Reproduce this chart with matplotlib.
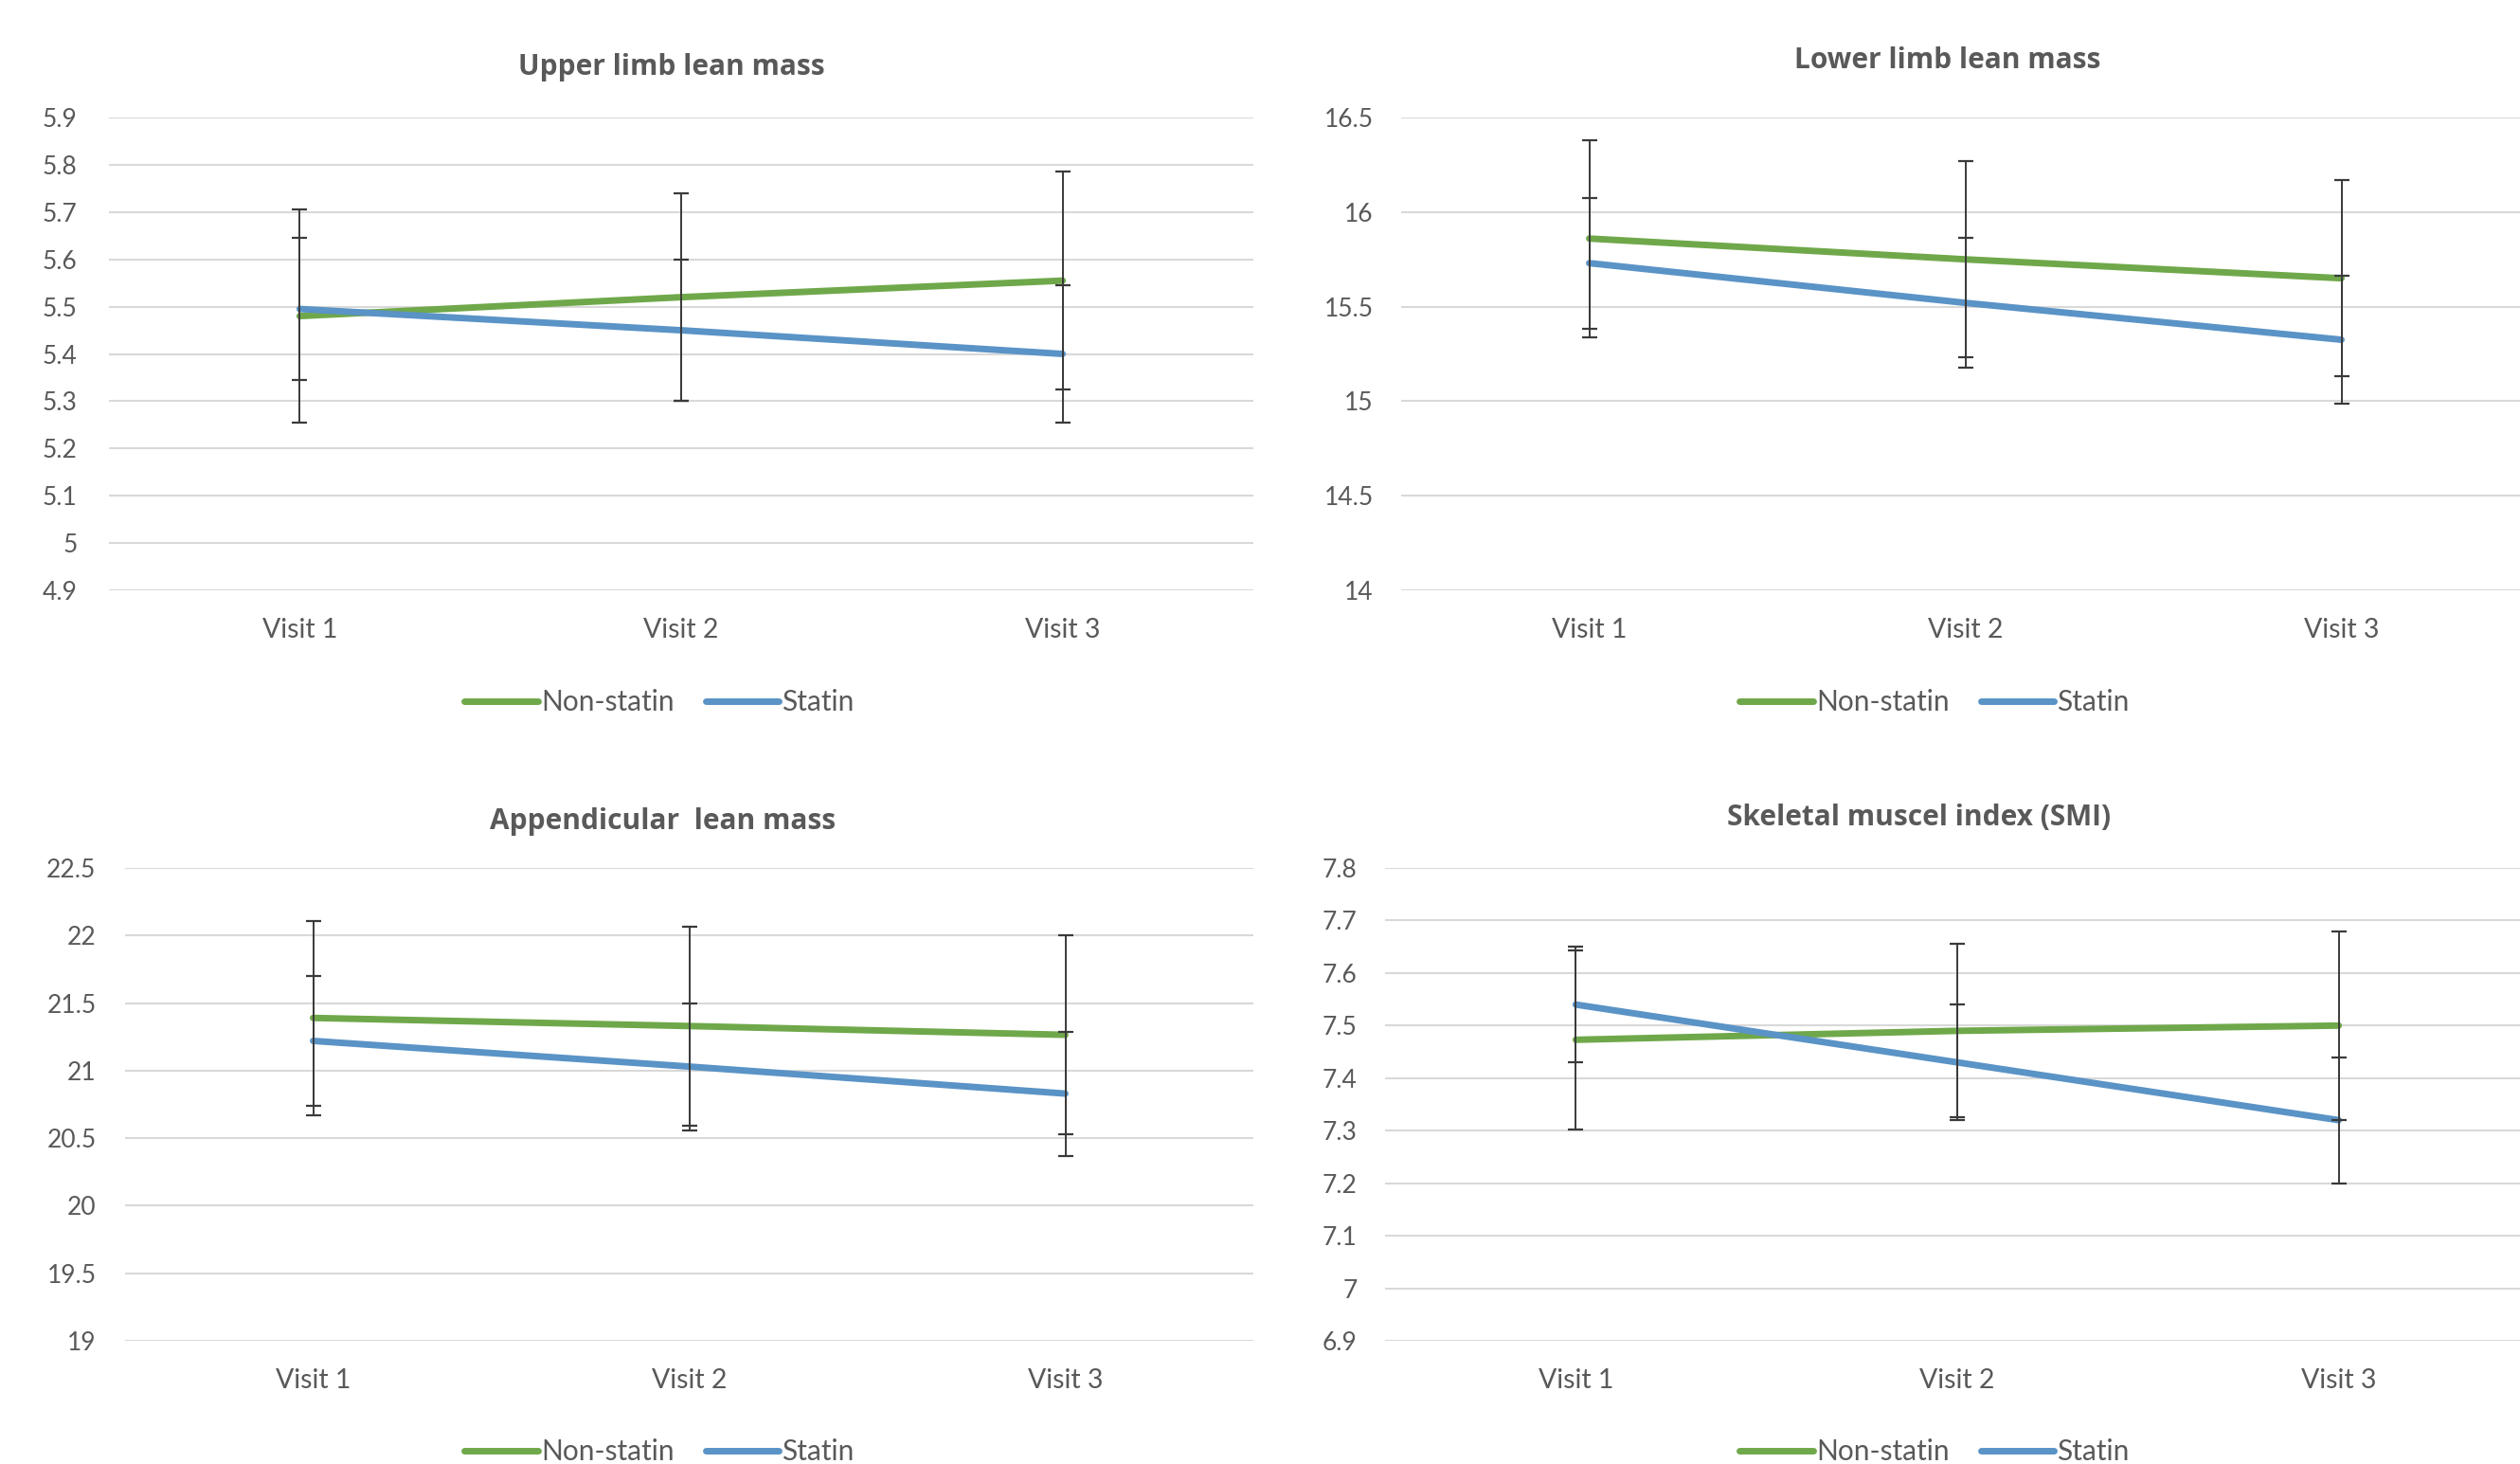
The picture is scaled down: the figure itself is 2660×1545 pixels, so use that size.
import matplotlib
matplotlib.use("Agg")
import matplotlib.pyplot as plt

plt.rcParams['font.family'] = ['Lato', 'DejaVu Sans']

visits = ["Visit 1", "Visit 2", "Visit 3"]
series_names = ["Non-statin", "Statin"]

# Upper limb lean mass
ul_non = [5.48, 5.52, 5.555]
ul_non_err = [0.225, 0.22, 0.23]
ul_sta = [5.495, 5.45, 5.40]
ul_sta_err = [0.15, 0.15, 0.145]
ul_ticks = [4.9, 5, 5.1, 5.2, 5.3, 5.4, 5.5, 5.6, 5.7, 5.8, 5.9]
ul_labels = ["4.9", "5", "5.1", "5.2", "5.3", "5.4", "5.5", "5.6", "5.7", "5.8", "5.9"]

# Lower limb lean mass
ll_non = [15.86, 15.75, 15.65]
ll_non_err = [0.52, 0.52, 0.517]
ll_sta = [15.73, 15.52, 15.325]
ll_sta_err = [0.345, 0.345, 0.34]
ll_ticks = [14, 14.5, 15, 15.5, 16, 16.5]
ll_labels = ["14", "14.5", "15", "15.5", "16", "16.5"]

# Appendicular lean mass
al_non = [21.39, 21.33, 21.265]
al_non_err = [0.72, 0.735, 0.735]
al_sta = [21.22, 21.03, 20.83]
al_sta_err = [0.48, 0.47, 0.46]
al_ticks = [19, 19.5, 20, 20.5, 21, 21.5, 22, 22.5]
al_labels = ["19", "19.5", "20", "20.5", "21", "21.5", "22", "22.5"]

# Skeletal muscel index
smi_non = [7.473, 7.49, 7.50]
smi_non_err = [0.17, 0.165, 0.18]
smi_sta = [7.54, 7.43, 7.32]
smi_sta_err = [0.11, 0.11, 0.12]
smi_ticks = [6.9, 7, 7.1, 7.2, 7.3, 7.4, 7.5, 7.6, 7.7, 7.8]
smi_labels = ["6.9", "7", "7.1", "7.2", "7.3", "7.4", "7.5", "7.6", "7.7", "7.8"]

GREEN = '#6FA84A'
BLUE = '#5A93C6'
TXT = '#595959'
W, H = 2660, 1545

fig = plt.figure(figsize=(W / 100, H / 100), dpi=100)


def panel(px, title, title_xy, legend_xy, non, non_err, sta, sta_err, ticks, labels, ypad):
    # px = (left, top, right, bottom) of plot area in pixels
    l, t, r, b = px
    ax = fig.add_axes([l / W, 1 - b / H, (r - l) / W, (b - t) / H])
    x = range(len(visits))
    h1, = ax.plot(x, non, color=GREEN, lw=5, solid_capstyle='round', zorder=3)
    h2, = ax.plot(x, sta, color=BLUE, lw=5, solid_capstyle='round', zorder=3)
    for vals, err in ((non, non_err), (sta, sta_err)):
        ax.errorbar(x, vals, yerr=err, fmt='none', ecolor='#3a3a3a', elinewidth=1.4,
                    capsize=6, capthick=1.6, zorder=4)
    ax.set_xlim(-0.5, 2.5)
    ax.set_ylim(ticks[0], ticks[-1])
    ax.set_yticks(ticks)
    ax.set_yticklabels(labels)
    ax.set_xticks(list(x))
    ax.set_xticklabels(visits)
    ax.grid(axis='y', color='#D9D9D9', lw=1.5, zorder=0)
    ax.set_axisbelow(True)
    for s in ax.spines.values():
        s.set_visible(False)
    ax.tick_params(axis='both', length=0, labelcolor=TXT)
    ax.tick_params(axis='y', pad=ypad, labelsize=19)
    ax.tick_params(axis='x', pad=21, labelsize=20.5)
    fig.text(title_xy[0] / W, 1 - title_xy[1] / H, title, ha='center', va='center',
             fontsize=21.5, fontweight='bold', color=TXT,
             family=['Open Sans', 'DejaVu Sans'])
    fig.legend([h1, h2], series_names, loc='center',
               bbox_to_anchor=(legend_xy[0] / W, 1 - legend_xy[1] / H),
               ncol=2, frameon=False, fontsize=21.5, labelcolor=TXT,
               handlelength=2.6, handletextpad=0.1, columnspacing=1.1)
    return ax


panel((115, 124, 1323, 623), "Upper limb lean mass", (709, 71), (696, 741),
      ul_non, ul_non_err, ul_sta, ul_sta_err, ul_ticks, ul_labels, 24)
panel((1479, 124, 2670, 623), "Lower limb lean mass", (2056, 64), (2042, 741),
      ll_non, ll_non_err, ll_sta, ll_sta_err, ll_ticks, ll_labels, 21)
panel((132, 916, 1323, 1415), "Appendicular  lean mass", (700, 867), (696, 1532),
      al_non, al_non_err, al_sta, al_sta_err, al_ticks, al_labels, 22)
panel((1462, 916, 2670, 1415), "Skeletal muscel index (SMI)", (2026, 863), (2042, 1532),
      smi_non, smi_non_err, smi_sta, smi_sta_err, smi_ticks, smi_labels, 21)

fig.savefig("out.png", dpi=100, facecolor='white')
